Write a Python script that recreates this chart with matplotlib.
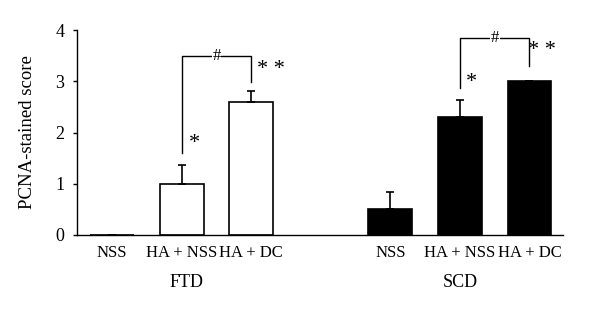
import matplotlib.pyplot as plt

plt.rcParams['font.family'] = ['Liberation Serif', 'DejaVu Serif']

# Data
groups = ["FTD", "SCD"]
treatments = ["NSS", "HA + NSS", "HA + DC"]
ftd_scores = [0.0, 1.0, 2.6]
ftd_errors = [0.0, 0.37, 0.22]
scd_scores = [0.5, 2.3, 3.0]
scd_errors = [0.33, 0.33, 0.0]

ftd_pos = [0, 1, 2]
scd_pos = [4, 5, 6]
width = 0.63

fig = plt.figure(figsize=(6, 3.14), dpi=100)
ax = fig.add_axes([0.128, 0.252, 0.81, 0.652])

# Bars with upper error bars only
ax.bar(ftd_pos, ftd_scores, width, color="white", edgecolor="black", linewidth=1.2,
       yerr=[[0, 0, 0], ftd_errors], error_kw=dict(ecolor="black", elinewidth=1.2, capsize=3, capthick=1.2))
ax.bar(scd_pos, scd_scores, width, color="black", edgecolor="black", linewidth=1.2,
       yerr=[[0, 0, 0], scd_errors], error_kw=dict(ecolor="black", elinewidth=1.2, capsize=3, capthick=1.2))

# Significance brackets
def bracket(x1, x2, y1, y2, top):
    ax.plot([x1, x1, x2, x2], [y1, top, top, y2], color="black", lw=1)
    ax.text((x1 + x2) / 2, top, "#", ha="center", va="center", fontsize=12,
            bbox=dict(facecolor="white", edgecolor="none", pad=0.5))

bracket(1, 2, 1.59, 2.99, 3.5)
bracket(5, 6, 2.86, 3.30, 3.85)

# Asterisks
ax.text(1.18, 1.78, "*", ha="center", va="center", fontsize=16)
ax.text(2.28, 3.24, "* *", ha="center", va="center", fontsize=16)
ax.text(5.16, 2.98, "*", ha="center", va="center", fontsize=16)
ax.text(6.18, 3.60, "* *", ha="center", va="center", fontsize=16)

# Axes styling
ax.set_xlim(-0.51, 6.48)
ax.set_ylim(0, 4)
ax.set_yticks([0, 1, 2, 3, 4])
ax.set_xticks(ftd_pos + scd_pos)
ax.set_xticklabels(treatments + treatments)
ax.tick_params(axis="y", direction="out", length=3, width=1, labelsize=13, pad=6)
ax.tick_params(axis="x", length=0, labelsize=12, pad=7)
ax.spines["top"].set_visible(False)
ax.spines["right"].set_visible(False)
ax.spines["left"].set_linewidth(1)
ax.spines["bottom"].set_linewidth(1)
ax.set_ylabel("PCNA-stained score", fontsize=13.5, labelpad=14)

# Group labels
ax.text(1.07, -0.94, groups[0], ha="center", va="center", fontsize=13)
ax.text(5.0, -0.94, groups[1], ha="center", va="center", fontsize=13)

fig.savefig("out.png", dpi=100)
